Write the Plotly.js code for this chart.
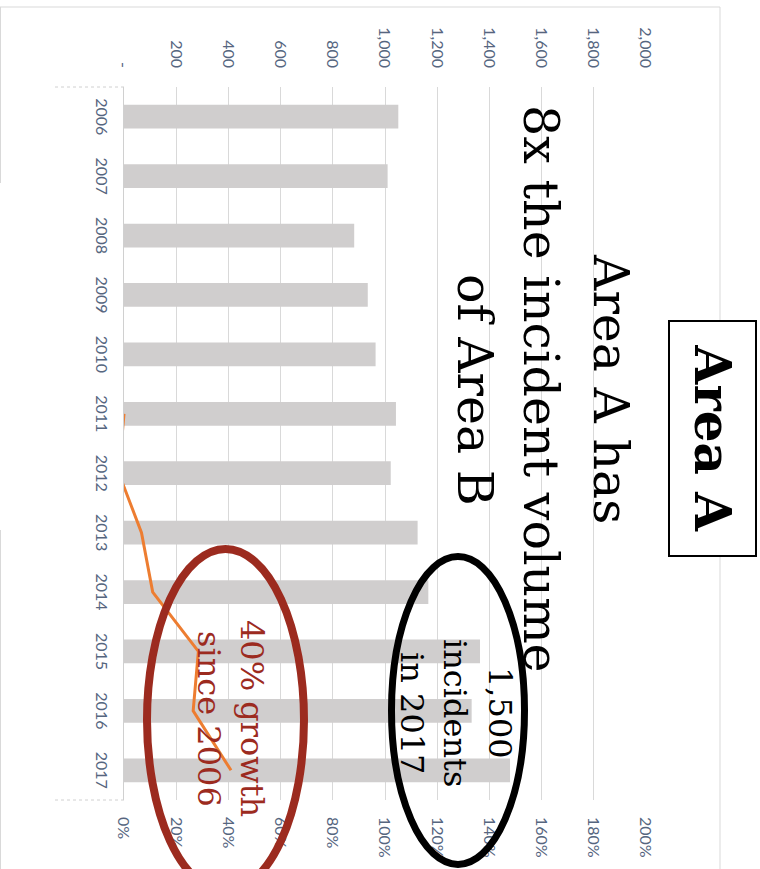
<!DOCTYPE html>
<html>
<head>
<meta charset="utf-8">
<script src="https://cdn.plot.ly/plotly-3.0.1.min.js"></script>
<style>
  html, body { margin: 0; padding: 0; background: #ffffff; overflow: hidden; }
  #wrap { position: absolute; left: 0; top: 0; width: 760px; height: 869px; overflow: hidden; }
  #chart { position: absolute; left: 0; top: 0; width: 869px; height: 760px;
           transform-origin: 0 0; transform: translate(760px, 0px) rotate(90deg); }
</style>
</head>
<body>
<div id="wrap"><div id="chart"></div></div>
<script>
// ---- data ----
const years = ['2006','2007','2008','2009','2010','2011','2012','2013','2014','2015','2016','2017'];
const incidents = [1051, 1010, 882, 934, 964, 1042, 1022, 1125, 1166, 1364, 1332, 1479];
const growthSince2006 = [null, null, null, null, null, 0, -0.02, 0.067, 0.11, 0.285, 0.265, 0.41];
const countTickVals = [0, 200, 400, 600, 800, 1000, 1200, 1400, 1600, 1800, 2000];
const countTickText = ['-', '200', '400', '600', '800', '1,000', '1,200', '1,400', '1,600', '1,800', '2,000'];
const pctTickVals = [0, 0.2, 0.4, 0.6, 0.8, 1.0, 1.2, 1.4, 1.6, 1.8, 2.0];
const pctTickText = ['0%', '20%', '40%', '60%', '80%', '100%', '120%', '140%', '160%', '180%', '200%'];
const chartTitle = 'Area A';
const headline = ['Area A has', '8x the incident volume', 'of Area B'];
const volumeNote = ['1,500', 'incidents', 'in 2017'];
const growthNote = ['40% growth', 'since 2006'];

// ---- layout geometry (unrotated frame) ----
const W = 869, H = 760;
const M = { l: 87, r: 69, t: 114, b: 124 };
const PW = W - M.l - M.r, PH = H - M.t - M.b;
const px = u => (u - M.l) / PW;
const py = v => (H - M.b - v) / PH;

const tickFont = { family: 'Lato, "Open Sans", sans-serif', size: 16, color: '#56667f' };
const serif = '"DejaVu Serif", serif';
const red = '#9c2b1f';
const grid = '#d9d9d9';

const traces = [
  { type: 'bar', x: years, y: incidents, yaxis: 'y', marker: { color: '#d0cece' },
    name: 'Incidents', hoverinfo: 'skip' },
  { type: 'scatter', mode: 'lines', x: years, y: growthSince2006, yaxis: 'y2',
    line: { color: '#ed7d31', width: 3 }, connectgaps: false, name: 'Growth since 2006', hoverinfo: 'skip' }
];

function txt(text, u, v, size, color, bold) {
  return { text: bold ? '<b>' + text + '</b>' : text, xref: 'paper', yref: 'paper',
           x: px(u), y: py(v), xanchor: 'center', yanchor: 'middle', showarrow: false,
           font: { family: serif, size: size, color: color } };
}

const annotations = [
  Object.assign(txt(chartTitle, 438.5, 47.5, 50, '#000', true),
    { bordercolor: '#000', borderwidth: 2, borderpad: 0, width: 233, height: 85, bgcolor: '#ffffff' }),
  txt(headline[0], 389, 149, 49, '#000'),
  txt(headline[1], 389, 219.5, 49, '#000'),
  txt(headline[2], 390, 285.5, 49, '#000'),
  txt(volumeNote[0], 712.5, 260, 32, '#000'),
  txt(volumeNote[1], 712.5, 305, 32, '#000'),
  txt(volumeNote[2], 712.5, 348, 32, '#000'),
  txt(growthNote[0], 718.5, 508, 32, red),
  txt(growthNote[1], 718.5, 551, 32, red)
];

const lineStyle = { color: grid, width: 1 };
const shapes = [
  // chart border
  { type: 'line', xref: 'paper', yref: 'paper', x0: px(7), x1: px(7), y0: py(40), y1: py(760), line: lineStyle },
  { type: 'line', xref: 'paper', yref: 'paper', x0: px(7), x1: px(900), y0: py(40), y1: py(40), line: lineStyle },
  { type: 'line', xref: 'paper', yref: 'paper', x0: px(7), x1: px(183), y0: py(759.5), y1: py(759.5), line: lineStyle },
  { type: 'line', xref: 'paper', yref: 'paper', x0: px(530), x1: px(900), y0: py(759.5), y1: py(759.5), line: lineStyle },
  // category axis end marks
  { type: 'line', xref: 'paper', yref: 'paper', x0: 0, x1: 0, y0: 0, y1: py(706), line: { color: '#d0d0d0', width: 1, dash: 'dot' } },
  { type: 'line', xref: 'paper', yref: 'paper', x0: 1, x1: 1, y0: 0, y1: py(706), line: { color: '#d0d0d0', width: 1, dash: 'dot' } },
  // highlight ellipses
  { type: 'circle', xref: 'paper', yref: 'paper', x0: px(556.5), x1: px(864.5), y0: py(235.5), y1: py(368.5),
    line: { color: '#000000', width: 7 }, fillcolor: 'rgba(0,0,0,0)' },
  { type: 'circle', xref: 'paper', yref: 'paper', x0: px(549), x1: px(891), y0: py(456), y1: py(613),
    line: { color: red, width: 8 }, fillcolor: 'rgba(0,0,0,0)' }
];

const layout = {
  width: W, height: H,
  margin: M,
  paper_bgcolor: '#ffffff', plot_bgcolor: '#ffffff',
  showlegend: false,
  bargap: 0.6,
  xaxis: { type: 'category', range: [-0.5, 11.5], showgrid: false, showline: true, linecolor: '#d0d0d0',
           linewidth: 1, ticks: '', tickfont: tickFont, ticklabelstandoff: 8, automargin: false, fixedrange: true },
  yaxis: { range: [0, 2000], tickvals: countTickVals, ticktext: countTickText, showgrid: true, gridcolor: grid,
           gridwidth: 1, zeroline: false, showline: false, ticks: '', tickfont: tickFont,
           ticklabelstandoff: 18, automargin: false, fixedrange: true },
  yaxis2: { overlaying: 'y', side: 'right', range: [0, 2], tickvals: pctTickVals, ticktext: pctTickText,
            showgrid: false, zeroline: false, showline: false, ticks: '', tickfont: tickFont,
            ticklabelstandoff: 16, automargin: false, fixedrange: true },
  annotations: annotations,
  shapes: shapes
};

Plotly.newPlot('chart', traces, layout, { displayModeBar: false, staticPlot: true });
</script>
</body>
</html>
